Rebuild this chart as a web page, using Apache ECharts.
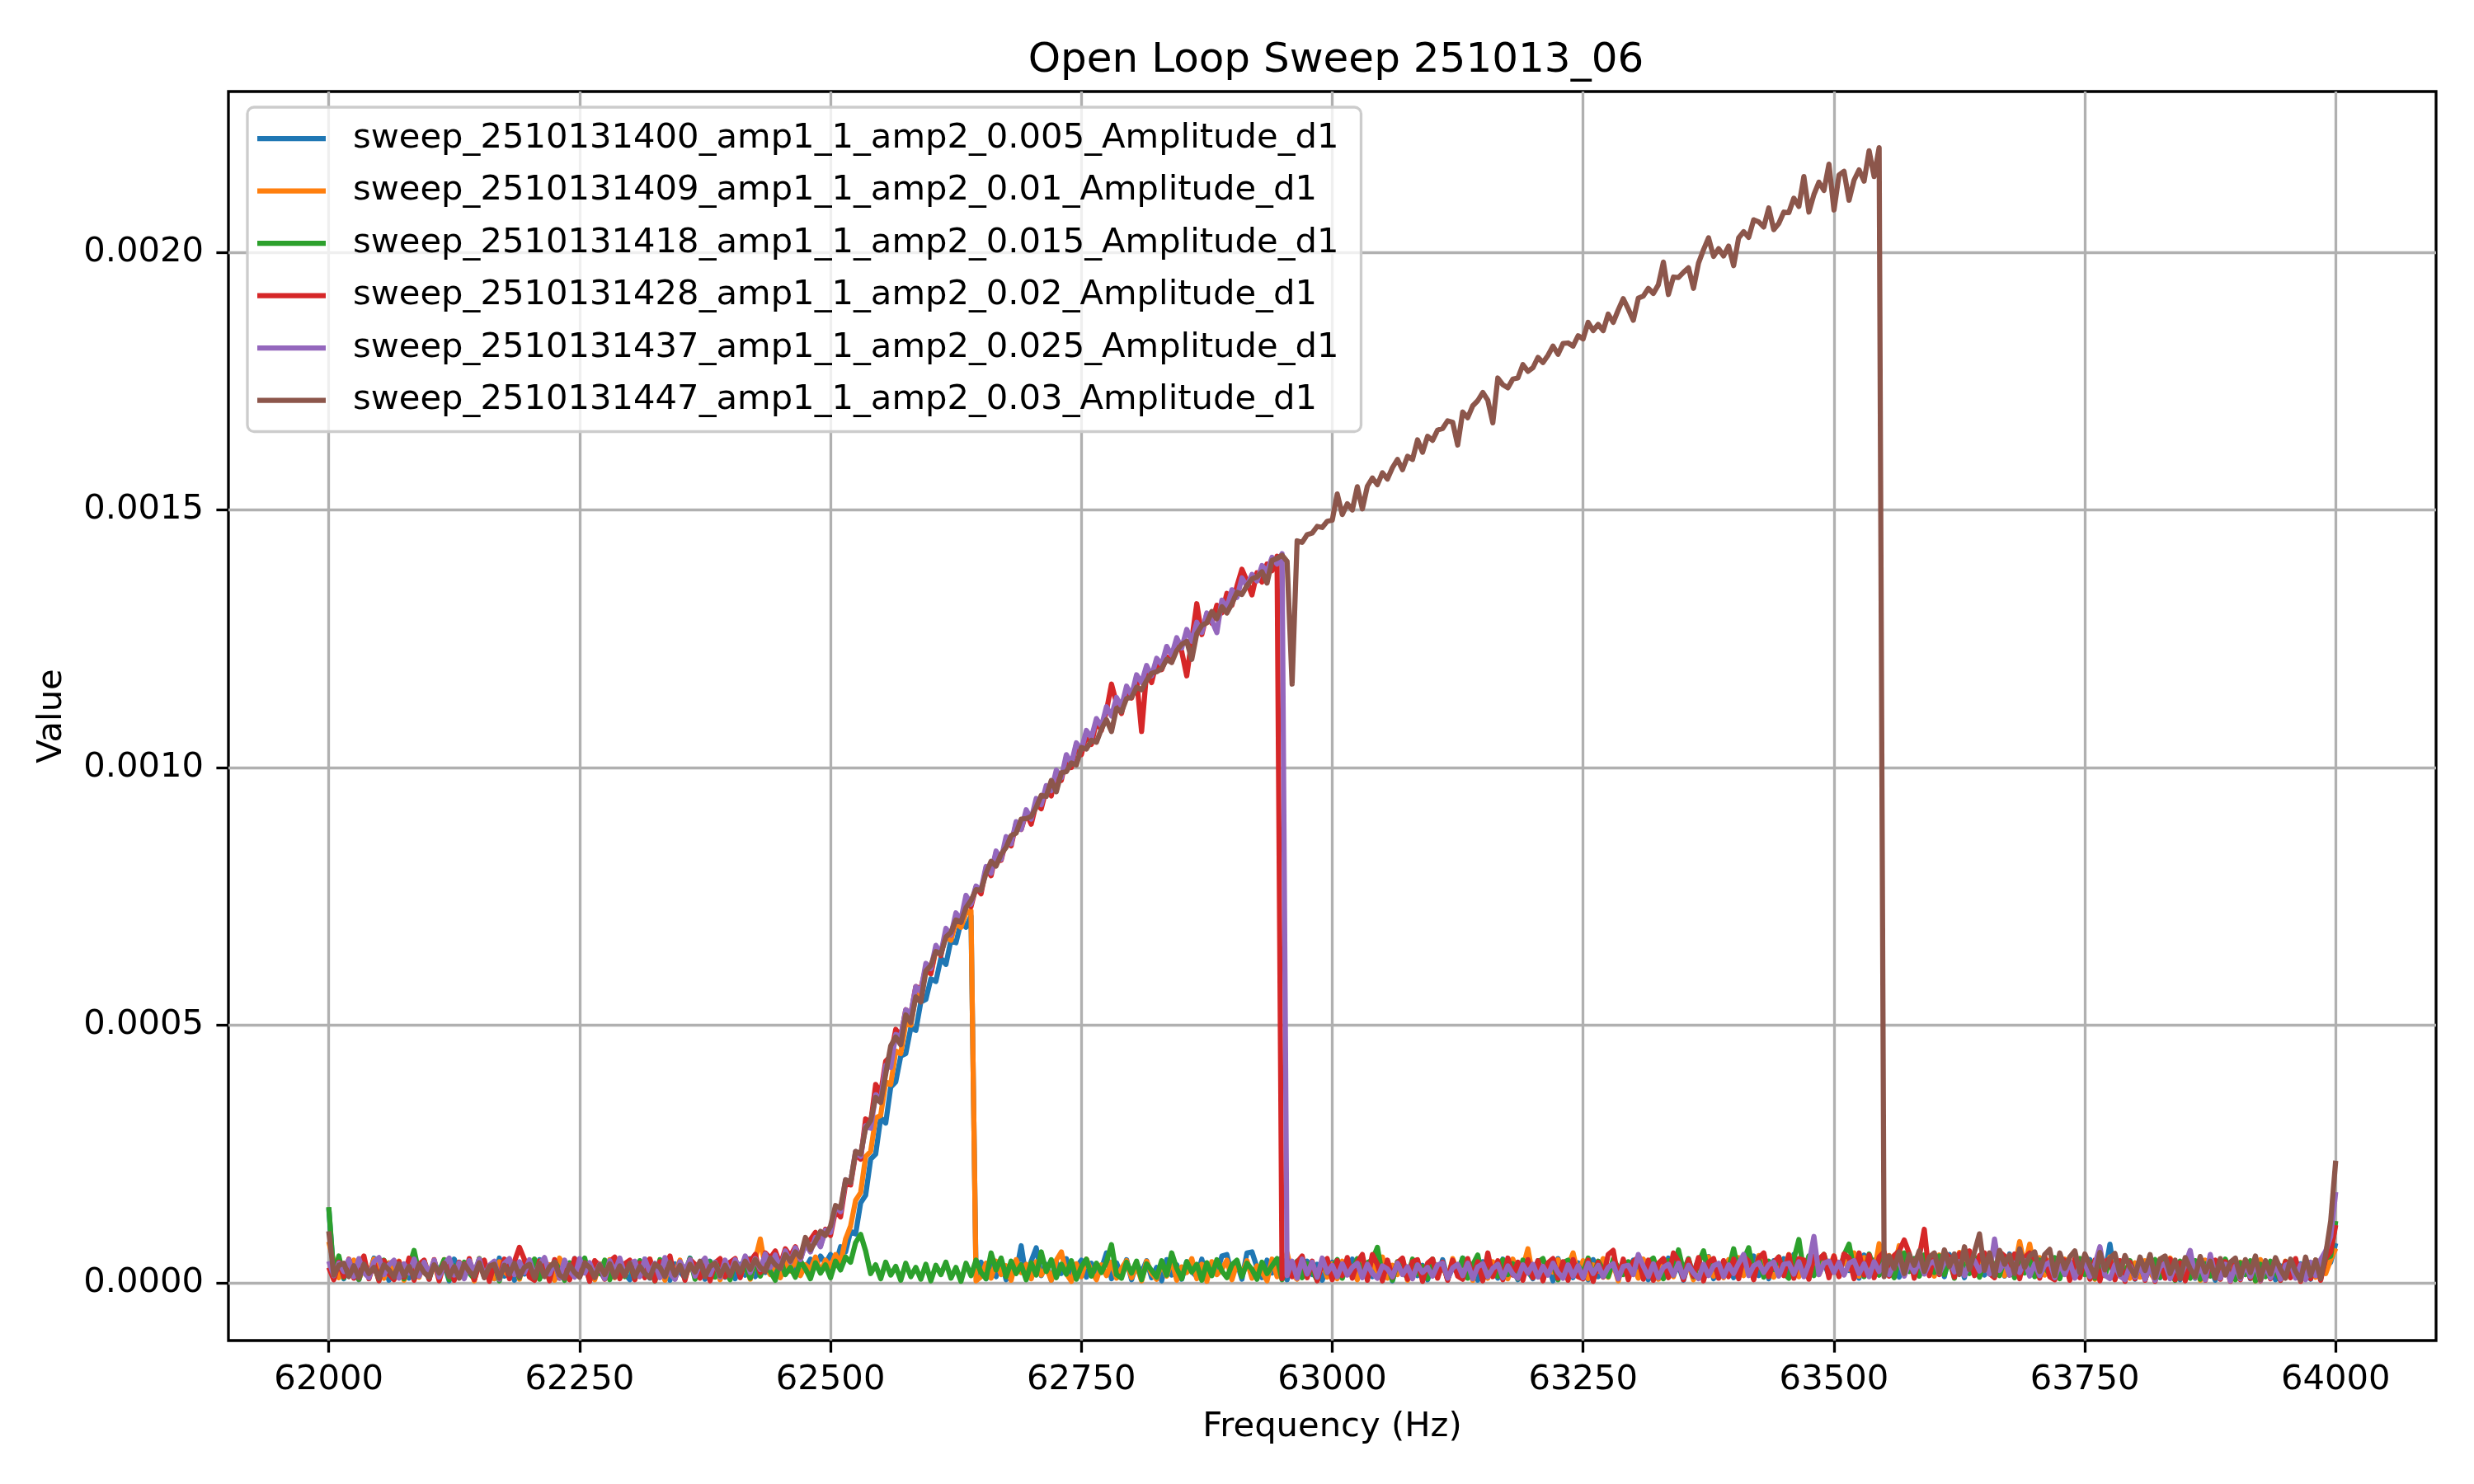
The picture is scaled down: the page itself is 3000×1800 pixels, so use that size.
<!DOCTYPE html>
<html>
<head>
<meta charset="utf-8">
<title>Open Loop Sweep 251013_06</title>
<script src="https://cdn.jsdelivr.net/npm/echarts@6/dist/echarts.min.js"></script>
<style>
  html, body { margin: 0; padding: 0; background: #fff; }
  #chart { width: 3000px; height: 1800px; }
</style>
</head>
<body>
<div id="chart"></div>
<script>
  // sweep readings, one every 5 Hz from 62000 to 64000 Hz, values in units of 1e-6
  var sweepStart = 62000;
  var sweepStep = 5;

  var amp005 = [
    145, 12, 40, 8, 45, 20, 6, 38, 14, 48, 10, 33, 5, 42, 18, 36, 9, 44, 15, 30,
    7, 41, 16, 35, 4, 46, 22, 11, 39, 6, 43, 19, 31, 8, 48, 13, 37, 5, 40, 17,
    34, 9, 45, 14, 28, 6, 42, 20, 10, 47, 15, 36, 4, 41, 23, 8, 39, 12, 44, 18,
    6, 38, 13, 46, 9, 32, 17, 43, 5, 37, 21, 10, 48, 14, 35, 7, 42, 19, 30, 11,
    40, 8, 36, 15, 47, 12, 33, 20, 44, 16, 39, 24, 50, 18, 42, 28, 46, 30, 52, 38,
    55, 35, 70, 60, 100, 95, 155, 170, 240, 250, 320, 310, 380, 390, 440, 445, 495, 490, 545, 550,
    590, 585, 630, 618, 665, 660, 700, 690, 712, 15, 40, 8, 38, 12, 45, 6, 35, 20, 72, 10,
    42, 68, 14, 36, 5, 40, 18, 47, 9, 31, 44, 11, 38, 16, 27, 58, 8, 39, 13, 45,
    6, 37, 20, 43, 10, 30, 4, 45, 15, 35, 7, 41, 22, 12, 46, 9, 33, 18, 52, 55,
    14, 40, 7, 58, 60, 30, 10, 44, 19, 35, 50, 6, 38, 21, 11, 42, 16, 36, 5, 29,
    40, 10, 35, 18, 46, 8, 31, 22, 12, 44, 16, 37, 4, 39, 25, 9, 43, 14, 34, 6,
    38, 15, 45, 7, 30, 20, 48, 11, 36, 5, 41, 17, 33, 9, 46, 13, 28, 6, 40, 22,
    8, 43, 19, 36, 4, 47, 14, 32, 10, 39, 24, 6, 45, 12, 35, 18, 42, 7, 37, 21,
    44, 11, 38, 6, 41, 23, 9, 48, 15, 34, 5, 40, 20, 46, 13, 51, 8, 36, 17, 43,
    10, 45, 18, 39, 52, 14, 37, 8, 43, 22, 47, 12, 55, 19, 40, 9, 49, 25, 38, 15,
    46, 13, 50, 24, 41, 9, 54, 20, 44, 16, 57, 28, 42, 11, 52, 23, 47, 14, 53, 30,
    18, 48, 12, 55, 26, 43, 10, 58, 21, 46, 15, 51, 29, 40, 13, 56, 19, 45, 24, 50,
    14, 44, 22, 38, 9, 47, 17, 41, 11, 36, 25, 45, 8, 40, 19, 75, 12, 37, 21, 33,
    7, 39, 15, 42, 20, 10, 44, 13, 35, 6, 40, 24, 9, 43, 16, 31, 5, 38, 19, 28,
    41, 12, 36, 8, 45, 21, 14, 39, 6, 33, 18, 42, 10, 37, 25, 7, 40, 15, 30, 40,
    77
  ];

  var amp010 = [
    80, 40, 10, 36, 19, 44, 7, 31, 15, 46, 22, 9, 39, 13, 42, 5, 35, 24, 11, 43,
    17, 37, 6, 45, 21, 10, 40, 14, 33, 4, 47, 18, 29, 8, 41, 23, 12, 38, 7, 44,
    26, 11, 42, 16, 35, 5, 48, 20, 9, 39, 14, 43, 24, 6, 37, 17, 45, 10, 32, 19,
    41, 8, 34, 22, 46, 12, 30, 5, 40, 18, 44, 9, 36, 15, 27, 47, 11, 38, 6, 33,
    20, 43, 13, 37, 7, 45, 85, 30, 16, 42, 10, 39, 23, 48, 14, 35, 26, 50, 20, 44,
    30, 55, 38, 85, 110, 160, 175, 245, 255, 320, 325, 390, 385, 450, 445, 505, 500, 560, 555, 605,
    600, 645, 640, 672, 665, 700, 690, 718, 722, 4, 12, 38, 9, 42, 16, 33, 5, 45, 20, 36,
    8, 41, 15, 30, 5, 44, 60, 18, 3, 37, 12, 46, 22, 6, 35, 14, 40, 9, 28, 43,
    10, 34, 4, 42, 18, 7, 39, 13, 45, 5, 31, 20, 47, 8, 36, 3, 41, 16, 26, 44,
    6, 38, 15, 43, 9, 33, 21, 4, 46, 12, 29, 58, 17, 7, 40, 14, 35, 5, 44, 11,
    37, 8, 42, 19, 31, 6, 45, 13, 38, 22, 50, 9, 34, 16, 46, 5, 40, 18, 27, 10,
    43, 14, 36, 7, 47, 20, 11, 39, 5, 44, 25, 9, 41, 15, 33, 8, 46, 19, 30, 66,
    12, 40, 6, 37, 21, 45, 10, 32, 58, 16, 43, 8, 35, 23, 47, 11, 38, 4, 42, 17,
    33, 9, 46, 18, 39, 7, 44, 24, 12, 48, 15, 36, 6, 41, 20, 50, 13, 37, 10, 45,
    22, 49, 14, 41, 8, 53, 26, 38, 11, 47, 19, 55, 30, 12, 44, 23, 51, 16, 42, 28,
    52, 18, 46, 27, 58, 13, 49, 34, 20, 76, 15, 53, 29, 72, 17, 48, 35, 56, 21, 44,
    13, 54, 31, 45, 19, 59, 24, 50, 16, 47, 36, 57, 22, 43, 14, 52, 27, 80, 33, 75,
    26, 49, 15, 44, 30, 10, 46, 21, 38, 12, 48, 25, 7, 42, 18, 50, 14, 35, 28, 9,
    39, 11, 43, 20, 6, 46, 17, 48, 24, 9, 41, 14, 36, 5, 44, 22, 10, 38, 16, 33,
    7, 40, 19, 35, 4, 45, 13, 31, 22, 8, 42, 16, 37, 6, 39, 25, 11, 43, 18, 45,
    67
  ];

  var amp015 = [
    147, 15, 52, 10, 38, 24, 7, 41, 16, 35, 5, 44, 20, 12, 39, 8, 30, 63, 18, 42,
    9, 36, 22, 45, 6, 33, 14, 40, 19, 8, 47, 11, 28, 37, 4, 43, 17, 31, 10, 38,
    21, 46, 7, 34, 13, 42, 25, 5, 39, 16, 30, 48, 9, 36, 18, 44, 6, 40, 23, 12,
    37, 8, 43, 19, 29, 4, 45, 15, 38, 10, 34, 21, 47, 7, 32, 14, 41, 11, 36, 24,
    6, 40, 18, 33, 9, 44, 13, 38, 22, 5, 46, 16, 30, 11, 42, 27, 8, 39, 19, 35,
    10, 42, 25, 50, 40, 78, 94, 62, 18, 35, 8, 40, 15, 32, 5, 38, 12, 30, 7, 36,
    4, 34, 16, 40, 9, 30, 3, 38, 14, 44, 20, 8, 58, 25, 48, 12, 42, 18, 35, 6,
    39, 15, 60, 22, 45, 10, 36, 17, 43, 7, 31, 46, 13, 38, 20, 41, 74, 16, 9, 40,
    19, 42, 6, 37, 24, 11, 43, 15, 58, 28, 8, 41, 21, 36, 5, 39, 14, 45, 23, 10,
    35, 44, 12, 38, 26, 7, 40, 18, 33, 47, 6, 36, 16, 42, 10, 37, 24, 5, 43, 19,
    30, 45, 9, 36, 21, 47, 12, 39, 44, 69, 14, 37, 5, 41, 23, 10, 46, 17, 32, 8,
    46, 12, 38, 7, 42, 19, 48, 9, 35, 54, 6, 40, 22, 13, 45, 16, 37, 8, 44, 25,
    11, 40, 47, 18, 36, 6, 39, 44, 14, 33, 20, 48, 9, 42, 25, 12, 46, 30, 16, 41,
    24, 45, 13, 40, 48, 19, 8, 43, 15, 64, 22, 47, 12, 38, 62, 17, 44, 10, 41, 27,
    66, 21, 44, 68, 16, 49, 11, 42, 26, 50, 18, 9, 46, 84, 20, 52, 14, 43, 55, 23,
    48, 17, 54, 75, 25, 51, 12, 56, 30, 15, 53, 28, 10, 49, 58, 22, 47, 13, 54, 27,
    20, 52, 16, 45, 9, 55, 29, 18, 50, 11, 43, 56, 24, 14, 48, 35, 10, 46, 19, 51,
    12, 44, 30, 17, 49, 8, 42, 10, 38, 47, 16, 41, 9, 36, 14, 46, 7, 39, 18, 43,
    10, 38, 6, 35, 45, 11, 40, 19, 5, 42, 15, 9, 43, 7, 37, 13, 40, 8, 46, 17,
    6, 39, 16, 43, 4, 36, 12, 42, 20, 5, 41, 14, 45, 8, 38, 18, 44, 10, 48, 52,
    120
  ];

  var amp020 = [
    30, 6, 40, 12, 46, 9, 34, 52, 8, 39, 4, 43, 17, 6, 41, 11, 48, 5, 36, 44,
    7, 45, 4, 38, 42, 5, 40, 12, 47, 6, 35, 44, 3, 37, 10, 46, 8, 41, 69, 45,
    11, 5, 42, 36, 4, 45, 9, 40, 6, 47, 13, 39, 3, 43, 33, 7, 41, 50, 8, 37,
    44, 6, 38, 10, 46, 4, 41, 32, 52, 8, 40, 5, 45, 36, 9, 42, 4, 39, 47, 12,
    40, 47, 10, 50, 42, 55, 20, 58, 48, 62, 35, 66, 52, 70, 45, 78, 84, 98, 72, 104,
    92, 140, 128, 192, 190, 250, 240, 318, 310, 385, 368, 430, 440, 492, 478, 530, 520, 575, 570, 612,
    600, 650, 635, 680, 675, 710, 700, 742, 730, 768, 755, 805, 790, 835, 820, 858, 848, 892, 880, 912,
    890, 930, 920, 958, 945, 990, 975, 1020, 1000, 1045, 1025, 1065, 1045, 1090, 1072, 1110, 1162, 1125, 1105, 1150,
    1135, 1172, 1070, 1185, 1165, 1205, 1190, 1215, 1205, 1245, 1225, 1178, 1248, 1318, 1258, 1298, 1280, 1315, 1300, 1338,
    1315, 1352, 1385, 1362, 1335, 1378, 1360, 1395, 1382, 1410, 8, 46, 12, 40, 52, 10, 42, 4, 38, 47,
    6, 43, 14, 49, 9, 40, 55, 5, 55, 36, 4, 44, 11, 39, 48, 7, 41, 45, 3, 38,
    46, 9, 40, 5, 44, 13, 7, 47, 10, 41, 4, 58, 12, 43, 6, 48, 15, 40, 5, 45,
    10, 43, 4, 39, 47, 9, 41, 5, 45, 12, 8, 44, 3, 40, 11, 55, 63, 8, 46, 6,
    41, 50, 7, 44, 5, 38, 47, 10, 58, 42, 6, 45, 13, 49, 4, 40, 47, 9, 43, 12,
    46, 8, 51, 42, 6, 48, 58, 12, 40, 50, 14, 54, 9, 47, 44, 7, 52, 46, 55, 10,
    52, 12, 56, 48, 8, 58, 15, 54, 10, 50, 60, 13, 53, 62, 83, 57, 9, 51, 104, 14,
    55, 16, 59, 50, 11, 57, 47, 62, 14, 53, 58, 18, 10, 60, 52, 15, 56, 8, 49, 58,
    47, 9, 52, 12, 6, 49, 43, 5, 46, 10, 48, 7, 44, 4, 41, 47, 6, 43, 3, 40,
    8, 44, 5, 40, 3, 43, 9, 46, 6, 39, 4, 42, 10, 45, 5, 38, 44, 7, 41, 3,
    40, 6, 43, 9, 45, 4, 39, 8, 44, 5, 41, 10, 47, 3, 42, 8, 44, 5, 48, 60,
    112
  ];

  var amp025 = [
    42, 14, 38, 22, 45, 12, 47, 20, 10, 41, 49, 16, 35, 44, 9, 37, 19, 46, 13, 40,
    18, 44, 11, 36, 48, 15, 39, 8, 43, 21, 46, 12, 34, 42, 7, 38, 47, 16, 41, 20,
    45, 13, 37, 49, 17, 40, 9, 44, 23, 11, 47, 19, 39, 14, 36, 8, 43, 22, 48, 15,
    36, 42, 12, 46, 20, 38, 10, 49, 18, 7, 41, 25, 45, 13, 37, 48, 16, 40, 11, 44,
    17, 45, 24, 52, 20, 47, 26, 56, 30, 54, 28, 62, 40, 68, 45, 75, 60, 88, 70, 102,
    98, 148, 138, 200, 195, 255, 245, 305, 300, 365, 355, 422, 418, 482, 478, 530, 522, 575, 565, 620,
    610, 655, 640, 688, 675, 718, 705, 752, 735, 770, 762, 808, 795, 838, 822, 866, 852, 895, 880, 918,
    900, 940, 928, 965, 955, 995, 980, 1025, 1008, 1048, 1035, 1072, 1058, 1095, 1080, 1118, 1100, 1136, 1118, 1158,
    1140, 1180, 1165, 1198, 1178, 1212, 1200, 1235, 1218, 1252, 1232, 1268, 1245, 1282, 1262, 1300, 1285, 1262, 1325, 1310,
    1345, 1330, 1368, 1352, 1375, 1362, 1392, 1380, 1408, 1395, 1415, 14, 42, 9, 46, 17, 40, 11, 48, 20,
    34, 12, 37, 15, 30, 38, 10, 36, 18, 9, 33, 27, 12, 38, 16, 31, 8, 35, 20, 30,
    13, 35, 38, 9, 29, 36, 14, 38, 8, 31, 37, 12, 28, 36, 10, 33, 17, 9, 35, 19,
    36, 11, 32, 15, 38, 20, 9, 35, 13, 33, 10, 38, 18, 34, 12, 30, 37, 8, 32, 34,
    16, 55, 32, 12, 37, 10, 30, 36, 15, 38, 11, 34, 19, 8, 36, 14, 33, 38, 12, 35,
    18, 38, 55, 14, 33, 39, 20, 35, 40, 13, 36, 38, 17, 41, 12, 37, 90, 16, 38, 42,
    20, 40, 15, 38, 43, 18, 37, 12, 41, 22, 39, 16, 36, 42, 13, 38, 21, 41, 17, 37,
    42, 19, 39, 44, 21, 41, 14, 38, 43, 23, 40, 17, 85, 24, 42, 15, 38, 20, 43, 13,
    37, 14, 34, 40, 10, 36, 16, 41, 9, 33, 38, 12, 36, 70, 15, 8, 35, 13, 6, 33,
    11, 35, 7, 33, 5, 31, 38, 8, 34, 12, 35, 63, 10, 34, 6, 55, 13, 9, 36, 4,
    32, 8, 35, 12, 37, 5, 33, 10, 36, 7, 34, 38, 9, 35, 6, 40, 14, 45, 62, 90,
    176
  ];

  var amp030 = [
    100, 15, 34, 38, 12, 33, 10, 36, 18, 30, 9, 35, 25, 11, 37, 14, 32, 10, 36, 20,
    11, 35, 19, 38, 12, 31, 9, 37, 22, 13, 39, 10, 32, 36, 9, 34, 17, 38, 12, 30,
    36, 10, 38, 12, 31, 40, 15, 9, 35, 20, 11, 38, 30, 10, 35, 16, 37, 11, 33, 14,
    38, 12, 32, 18, 10, 36, 30, 12, 40, 15, 34, 11, 36, 21, 42, 12, 32, 38, 14, 34,
    14, 38, 20, 42, 26, 45, 30, 22, 48, 35, 28, 55, 42, 60, 50, 88, 64, 80, 100, 92,
    110, 150, 145, 200, 195, 255, 250, 300, 315, 360, 350, 405, 460, 477, 462, 520, 505, 555, 545, 605,
    616, 643, 638, 671, 680, 704, 700, 728, 742, 763, 762, 795, 818, 809, 832, 845, 868, 873, 900, 901,
    905, 923, 946, 944, 975, 953, 990, 992, 1009, 1005, 1039, 1036, 1053, 1049, 1075, 1093, 1070, 1115, 1108, 1134,
    1136, 1156, 1151, 1169, 1183, 1186, 1192, 1210, 1204, 1227, 1239, 1245, 1210, 1260, 1276, 1281, 1303, 1289, 1312, 1300,
    1318, 1340, 1336, 1353, 1366, 1370, 1380, 1358, 1402, 1406, 1412, 1400, 1162, 1440, 1437, 1452, 1455, 1468, 1466, 1478,
    1480, 1531, 1491, 1512, 1500, 1545, 1502, 1546, 1562, 1549, 1572, 1560, 1582, 1598, 1578, 1604, 1598, 1636, 1612, 1643,
    1635, 1655, 1658, 1673, 1670, 1626, 1690, 1679, 1702, 1712, 1728, 1713, 1669, 1756, 1743, 1737, 1754, 1756, 1782, 1769,
    1776, 1796, 1786, 1800, 1818, 1802, 1823, 1824, 1818, 1838, 1832, 1864, 1848, 1860, 1848, 1880, 1864, 1888, 1910, 1890,
    1868, 1911, 1915, 1930, 1920, 1937, 1981, 1918, 1952, 1951, 1961, 1970, 1930, 1979, 2005, 2028, 1992, 2007, 1993, 2012,
    1974, 2028, 2040, 2029, 2063, 2059, 2049, 2086, 2044, 2056, 2078, 2077, 2105, 2089, 2147, 2078, 2112, 2136, 2120, 2171,
    2082, 2150, 2157, 2101, 2140, 2160, 2138, 2197, 2147, 2203, 12, 52, 28, 60, 18, 55, 34, 62, 22, 50,
    58, 20, 64, 32, 56, 16, 70, 26, 60, 95, 24, 58, 14, 63, 36, 54, 18, 66, 30, 52,
    60, 22, 55, 65, 14, 58, 28, 50, 62, 20, 56, 34, 12, 59, 25, 48, 57, 16, 53, 30,
    14, 50, 24, 55, 10, 46, 52, 18, 44, 8, 49, 27, 12, 51, 21, 42, 9, 47, 15, 40,
    48, 11, 45, 20, 52, 6, 43, 17, 49, 26, 9, 46, 22, 5, 50, 14, 44, 8, 55, 120,
    237
  ];

  var seriesNames = [
    'sweep_2510131400_amp1_1_amp2_0.005_Amplitude_d1',
    'sweep_2510131409_amp1_1_amp2_0.01_Amplitude_d1',
    'sweep_2510131418_amp1_1_amp2_0.015_Amplitude_d1',
    'sweep_2510131428_amp1_1_amp2_0.02_Amplitude_d1',
    'sweep_2510131437_amp1_1_amp2_0.025_Amplitude_d1',
    'sweep_2510131447_amp1_1_amp2_0.03_Amplitude_d1'
  ];
  var seriesColors = ['#1f77b4', '#ff7f0e', '#2ca02c', '#d62728', '#9467bd', '#8c564b'];
  var xTicks = [62000, 62250, 62500, 62750, 63000, 63250, 63500, 63750, 64000];
  var yTicks = [0, 0.0005, 0.0010, 0.0015, 0.0020];

  var font = 'DejaVu Sans';
  var allValues = [amp005, amp010, amp015, amp020, amp025, amp030];

  var series = [];
  for (var s = 0; s < allValues.length; s++) {
    var vals = allValues[s];
    if (vals.length != 401) {
      throw new Error('series ' + s + ' has ' + vals.length + ' points');
    }
    var pts = [];
    for (var i = 0; i < vals.length; i++) {
      pts.push([sweepStart + i * sweepStep, vals[i] * 1e-6]);
    }
    series.push({
      name: seriesNames[s],
      type: 'line',
      data: pts,
      symbol: 'none',
      showSymbol: false,
      color: seriesColors[s],
      lineStyle: { width: 6.25, color: seriesColors[s], join: 'round' },
      itemStyle: { color: seriesColors[s] },
      emphasis: { disabled: true }
    });
  }

  var myChart = echarts.init(document.getElementById('chart'));
  var option = {
    animation: false,
    backgroundColor: '#ffffff',
    title: {
      text: 'Open Loop Sweep 251013_06',
      left: 1615,
      top: 44,
      textAlign: 'center',
      textStyle: { fontFamily: font, fontSize: 50, fontWeight: 'normal', color: '#000' }
    },
    legend: {
      orient: 'vertical',
      left: 300,
      top: 130,
      padding: [17, 27, 17, 12],
      itemWidth: 83,
      itemHeight: 6.25,
      itemGap: 21.5,
      icon: 'rect',
      backgroundColor: 'rgba(255,255,255,0.8)',
      borderColor: '#cccccc',
      borderWidth: 3.3,
      borderRadius: 8,
      textStyle: { fontFamily: font, fontSize: 41.7, color: '#000', lineHeight: 42, padding: [0, 0, 0, 28] },
      data: seriesNames
    },
    grid: {
      left: 277, right: 46, top: 111, bottom: 174,
      show: true, borderColor: '#000', borderWidth: 3.3
    },
    xAxis: {
      type: 'value',
      min: 61900,
      max: 64100,
      name: 'Frequency (Hz)',
      nameLocation: 'middle',
      nameGap: 84,
      nameTextStyle: { fontFamily: font, fontSize: 41.7, color: '#000' },
      axisLine: { show: false, onZero: false },
      axisTick: { show: true, length: 14.6, customValues: xTicks, lineStyle: { color: '#000', width: 3.3 } },
      axisLabel: {
        customValues: xTicks, margin: 27, fontFamily: font, fontSize: 41.7, color: '#000',
        formatter: function (v) { return String(v); }
      },
      splitLine: { show: true, lineStyle: { color: '#b0b0b0', width: 3.3 } }
    },
    yAxis: {
      type: 'value',
      min: -0.000112,
      max: 0.002312,
      name: 'Value',
      nameLocation: 'middle',
      nameGap: 193,
      nameTextStyle: { fontFamily: font, fontSize: 41.7, color: '#000' },
      axisLine: { show: false, onZero: false },
      axisTick: { show: true, length: 14.6, customValues: yTicks, lineStyle: { color: '#000', width: 3.3 } },
      axisLabel: {
        customValues: yTicks, margin: 30, fontFamily: font, fontSize: 41.7, color: '#000',
        formatter: function (v) { return v.toFixed(4); }
      },
      splitLine: { show: true, lineStyle: { color: '#b0b0b0', width: 3.3 } }
    },
    series: series
  };
  myChart.setOption(option);
</script>
</body>
</html>
